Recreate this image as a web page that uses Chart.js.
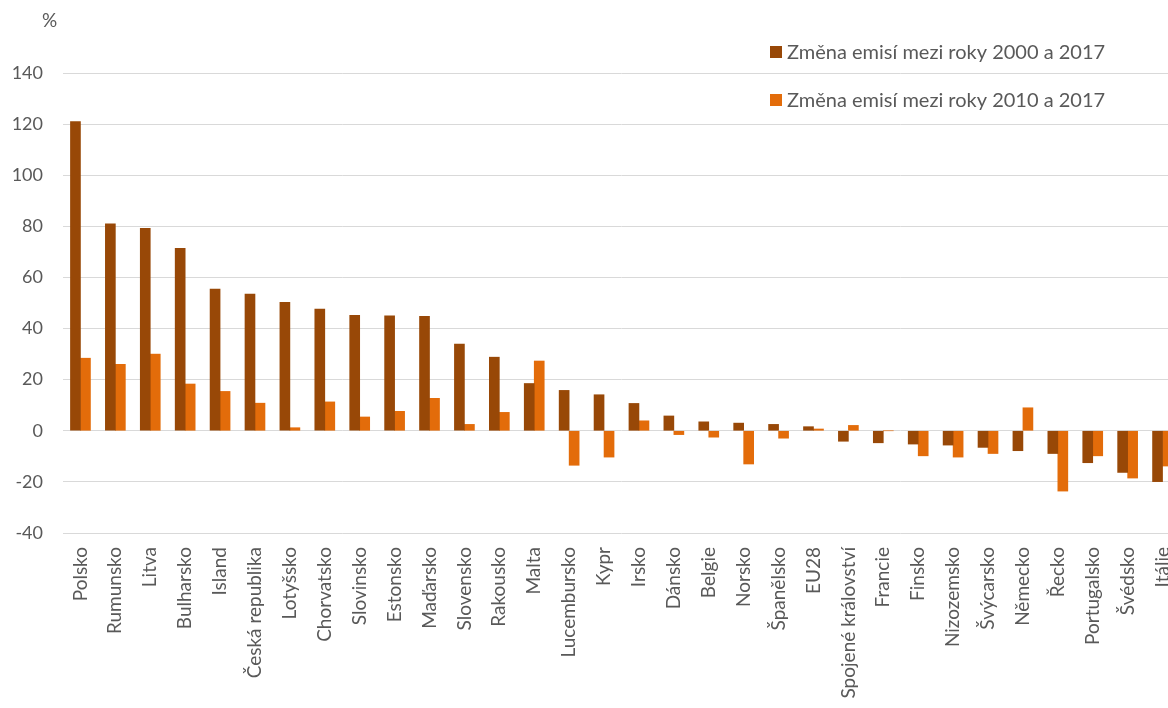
<!DOCTYPE html>
<html>
<head>
<meta charset="utf-8">
<script src="https://cdn.jsdelivr.net/npm/chart.js@4.4.1/dist/chart.umd.min.js"></script>
<style>
html,body{margin:0;padding:0;background:#fff;overflow:hidden;width:1168px;height:708px;}
#wrap{position:absolute;left:0;top:0;width:1200px;height:708px;}
</style>
</head>
<body>
<div id="wrap"><canvas id="c" width="1200" height="708"></canvas></div>
<script>
const categories = ["Polsko","Rumunsko","Litva","Bulharsko","Island","Česká republika","Lotyšsko","Chorvatsko","Slovinsko","Estonsko","Maďarsko","Slovensko","Rakousko","Malta","Lucembursko","Kypr","Irsko","Dánsko","Belgie","Norsko","Španělsko","EU28","Spojené království","Francie","Finsko","Nizozemsko","Švýcarsko","Německo","Řecko","Portugalsko","Švédsko","Itálie"];
const change2000_2017 = [121,81,79.2,71.4,55.4,53.5,50.3,47.6,45.2,45,44.8,33.9,28.8,18.5,15.8,14.1,10.7,5.8,3.5,3.0,2.5,1.6,-4.1,-4.7,-5.2,-5.6,-6.5,-7.8,-8.9,-12.5,-16.3,-19.9];
const change2010_2017 = [28.4,26,30,18.3,15.4,10.8,1.2,11.3,5.4,7.6,12.7,2.5,7.2,27.3,-13.5,-10.3,3.9,-1.5,-2.5,-13,-2.9,0.7,2.1,0,-9.8,-10.3,-8.9,9.0,-23.6,-9.8,-18.5,-13.8];
const seriesLabels = ["Změna emisí mezi roky 2000 a 2017","Změna emisí mezi roky 2010 a 2017"];
const seriesColors = ["#984807","#E36C0A"];
const yTicks = [140,120,100,80,60,40,20,0,-20,-40];
const unitLabel = "%";

const FONT = "Lato, 'Open Sans', sans-serif";
const TXT = "#595959";

const overlay = {
  id:'overlay',
  afterDraw(chart){
    const ctx = chart.ctx;
    ctx.save();
    ctx.fillStyle = TXT;
    ctx.textBaseline = "middle";
    ctx.textAlign = "left";
    ctx.font = "19px " + FONT;
    ctx.fillText(unitLabel, 42, 21);
    ctx.font = "20px " + FONT;
    const lx = 770, ly = [52, 100];
    chart.data.datasets.forEach((ds,i)=>{
      ctx.fillStyle = ds.backgroundColor;
      ctx.fillRect(lx, ly[i]-6, 12, 12);
      ctx.fillStyle = TXT;
      ctx.fillText(ds.label, lx+17, ly[i]+1);
    });
    ctx.restore();
  }
};

new Chart(document.getElementById('c'), {
  type:'bar',
  data:{
    labels: categories,
    datasets:[
      {label: seriesLabels[0], data: change2000_2017, backgroundColor: seriesColors[0], barThickness:10, categoryPercentage:0.70},
      {label: seriesLabels[1], data: change2010_2017, backgroundColor: seriesColors[1], barThickness:10, categoryPercentage:0.70}
    ]
  },
  options:{
    responsive:false,
    animation:false,
    layout:{padding:{top:73,right:20,left:0,bottom:0}},
    plugins:{legend:{display:false},tooltip:{enabled:false}},
    scales:{
      x:{
        grid:{display:false,drawTicks:false},
        border:{display:false},
        ticks:{color:TXT,font:{family:FONT,size:19},minRotation:90,maxRotation:90,autoSkip:false,padding:14},
        afterFit(s){ s.height = 175; }
      },
      y:{
        min:-40,max:140,
        afterBuildTicks(s){ s.ticks = yTicks.map(v=>({value:v})); },
        grid:{color:"#d9d9d9",lineWidth:1,drawTicks:false},
        border:{display:false},
        ticks:{color:TXT,font:{family:FONT,size:18},padding:20},
        afterFit(s){ s.width = 63; }
      }
    }
  },
  plugins:[overlay]
});
</script>
</body>
</html>
